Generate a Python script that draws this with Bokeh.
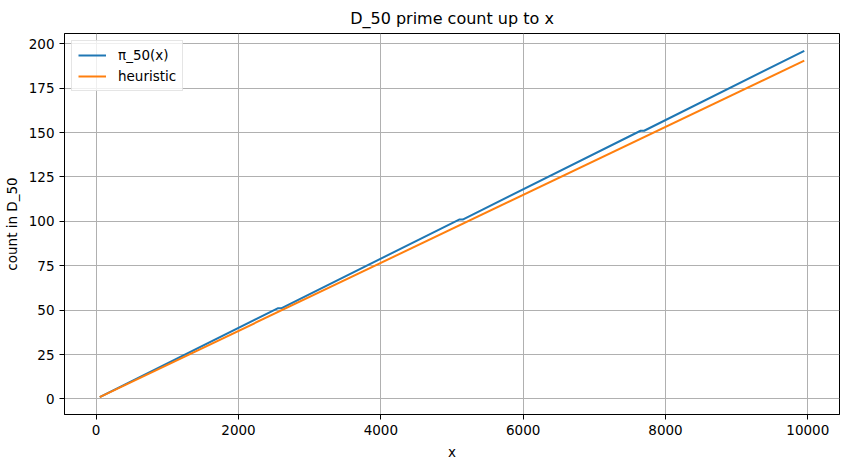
from bokeh.plotting import figure
from bokeh.models import FixedTicker, Range1d, Legend, LegendItem
from bokeh.embed import file_html
from bokeh.resources import INLINE

# data
pi_x = [50, 2550, 2600, 5100, 5150, 7650, 7700, 9950]
pi_y = [1, 51, 51, 101, 101, 151, 151, 196]
heur_x = [50, 9950]
heur_y = [1.0, 190.5]
x_ticks = [0, 2000, 4000, 6000, 8000, 10000]
y_ticks = [0, 25, 50, 75, 100, 125, 150, 175, 200]

FONT = "DejaVu Sans"

p = figure(width=840, height=462, output_backend="svg", toolbar_location=None,
           title="D_50 prime count up to x",
           x_range=Range1d(-445, 10445), y_range=Range1d(-8.75, 205.75),
           min_border_left=58, min_border_right=1, min_border_top=24, min_border_bottom=40)

p.title.text_font = FONT
p.title.text_font_size = "16px"
p.title.text_font_style = "normal"
p.title.text_color = "black"
p.title.align = "center"
p.title.standoff = 12
p.title.offset = 0

p.outline_line_color = "black"
p.outline_line_width = 1
p.background_fill_color = "white"
p.border_fill_color = "white"

for ax in (p.xaxis[0], p.yaxis[0]):
    ax.axis_line_color = "black"
    ax.axis_line_width = 1
    ax.major_tick_in = 0
    ax.major_tick_out = 5
    ax.major_tick_line_color = "black"
    ax.minor_tick_line_color = None
    ax.major_label_text_font = FONT
    ax.major_label_text_font_size = "13.5px"
    ax.major_label_text_color = "black"
    ax.axis_label_text_font = FONT
    ax.axis_label_text_font_size = "13.5px"
    ax.axis_label_text_font_style = "normal"
    ax.axis_label_text_color = "black"
    ax.major_label_standoff = 5
    ax.axis_label_standoff = 6

p.xaxis.ticker = FixedTicker(ticks=x_ticks)
p.yaxis.ticker = FixedTicker(ticks=y_ticks)
p.xaxis.axis_label = "x"
p.yaxis.axis_label = "count in D_50"

p.grid.grid_line_color = "#b0b0b0"
p.grid.grid_line_width = 1
p.xgrid.ticker = FixedTicker(ticks=x_ticks)
p.ygrid.ticker = FixedTicker(ticks=y_ticks)

r1 = p.line(pi_x, pi_y, line_color="#1f77b4", line_width=2)
r2 = p.line(heur_x, heur_y, line_color="#ff7f0e", line_width=2)

legend = Legend(items=[LegendItem(label="π_50(x)", renderers=[r1]),
                       LegendItem(label="heuristic", renderers=[r2])],
                location="top_left")
legend.label_text_font = FONT
legend.label_text_font_size = "13.5px"
legend.label_text_color = "black"
legend.border_line_color = "#cccccc"
legend.border_line_width = 1
legend.background_fill_alpha = 0.8
legend.margin = 7
legend.padding = 6
legend.spacing = 5
legend.glyph_width = 28
legend.glyph_height = 16
legend.label_standoff = 12
legend.label_height = 16
p.add_layout(legend)

open("out.html", "w").write(file_html(p, INLINE))
